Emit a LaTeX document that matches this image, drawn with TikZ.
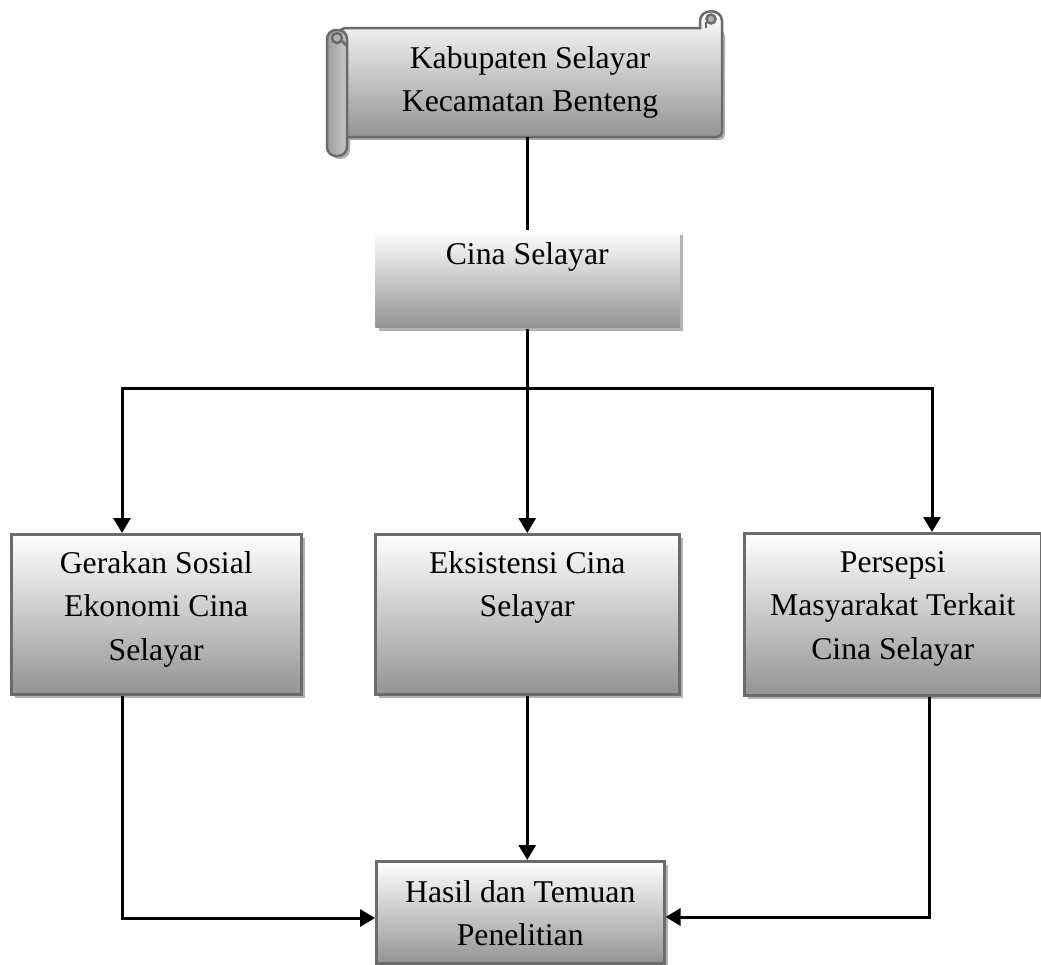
\documentclass[tikz,border=0pt]{standalone}
\usepackage{fontspec}
\setmainfont{Liberation Serif}
\usetikzlibrary{arrows.meta,shadows,calc}
\begin{document}
\begin{tikzpicture}[x=1pt,y=-1pt,
  box/.style={rectangle, draw=black!58, line width=2.5pt, top color=white, bottom color=black!42,
    inner sep=0pt, anchor=north west,
    drop shadow={shadow xshift=3.5pt, shadow yshift=-3.5pt, fill=black!30, opacity=1}},
  plainbox/.style={box, draw=none},
  txt/.style={align=center, inner sep=0pt, anchor=north, font=\fontsize{31.7}{43.5}\selectfont},
  conn/.style={line width=3pt, black},
  arr/.style={conn, -{Triangle[width=17pt,length=15pt]}},
  scrollline/.style={draw=black!58, line width=2.5pt}
]
\useasboundingbox (0,0) rectangle (1041,964);

% ---------- scroll ----------
\fill[black!30, rounded corners=5pt] (344,31) rectangle (725,140);
\fill[black!30, rounded corners=9pt] (330,33) rectangle (350,159);
\path[scrollline, top color=white, bottom color=black!42]
  (340,28) -- (700,28) -- (700,21) .. controls (700,8) and (722,8) .. (722,21)
  [rounded corners=5pt] -- (722,137) -- (340,137) -- cycle;
\filldraw[scrollline, fill=black!30] (711,19) circle[radius=4.5pt];
\draw[scrollline] (706,22) -- (706,28);
\path[scrollline, left color=black!38, right color=black!22, rounded corners=9pt]
  (327,30) rectangle (347,156);
\filldraw[scrollline, fill=black!30] (337,38) circle[radius=5pt];
\draw[scrollline] (342,41) -- (347,46);
\node[minimum width=382pt, minimum height=109pt, inner sep=0pt, anchor=north west] (scroll) at (340,28) {};
\node[txt] (scrollt) at (530,46) {Kabupaten Selayar\\Kecamatan Benteng};

% ---------- boxes ----------
\node[plainbox, minimum width=304pt, minimum height=96pt] (cina) at (374,230) {};
\node[box, minimum width=290pt, minimum height=160pt] (ger) at (10,533) {};
\node[box, minimum width=304pt, minimum height=160pt] (eks) at (374,533) {};
\node[box, minimum width=297pt, minimum height=162pt] (per) at (743,532) {};
\node[box, minimum width=288pt, minimum height=102pt] (has) at (375,860) {};

\node[txt] (cinat) at ([yshift=-12pt]cina.north) {Cina Selayar};
\node[txt] (gert) at ([yshift=-18pt]ger.north) {Gerakan Sosial\\Ekonomi Cina\\Selayar};
\node[txt] (ekst) at ([yshift=-18pt]eks.north) {Eksistensi Cina\\Selayar};
\node[txt] (pert) at ([yshift=-19pt]per.north) {Persepsi\\Masyarakat Terkait\\Cina Selayar};
\node[txt] (hast) at ([yshift=-20pt]has.north) {Hasil dan Temuan\\Penelitian};

% ---------- connectors ----------
\draw[conn] (scroll.south -| cina.north) -- (cina.north);
\coordinate (split) at (526,388);
\draw[arr] (cina.south) -- (eks.north);
\draw[arr] (split) -| ([xshift=112pt]ger.north west);
\draw[arr] (split) -| ([xshift=189pt]per.north west);
\draw[arr] (eks.south) -- (eks.south |- has.north);
\draw[arr] ([xshift=112pt]ger.south west) |- ([yshift=-58pt]has.north west);
\draw[arr] ([xshift=186pt]per.south west) |- ([yshift=-57pt]has.north east);
\end{tikzpicture}
\end{document}
